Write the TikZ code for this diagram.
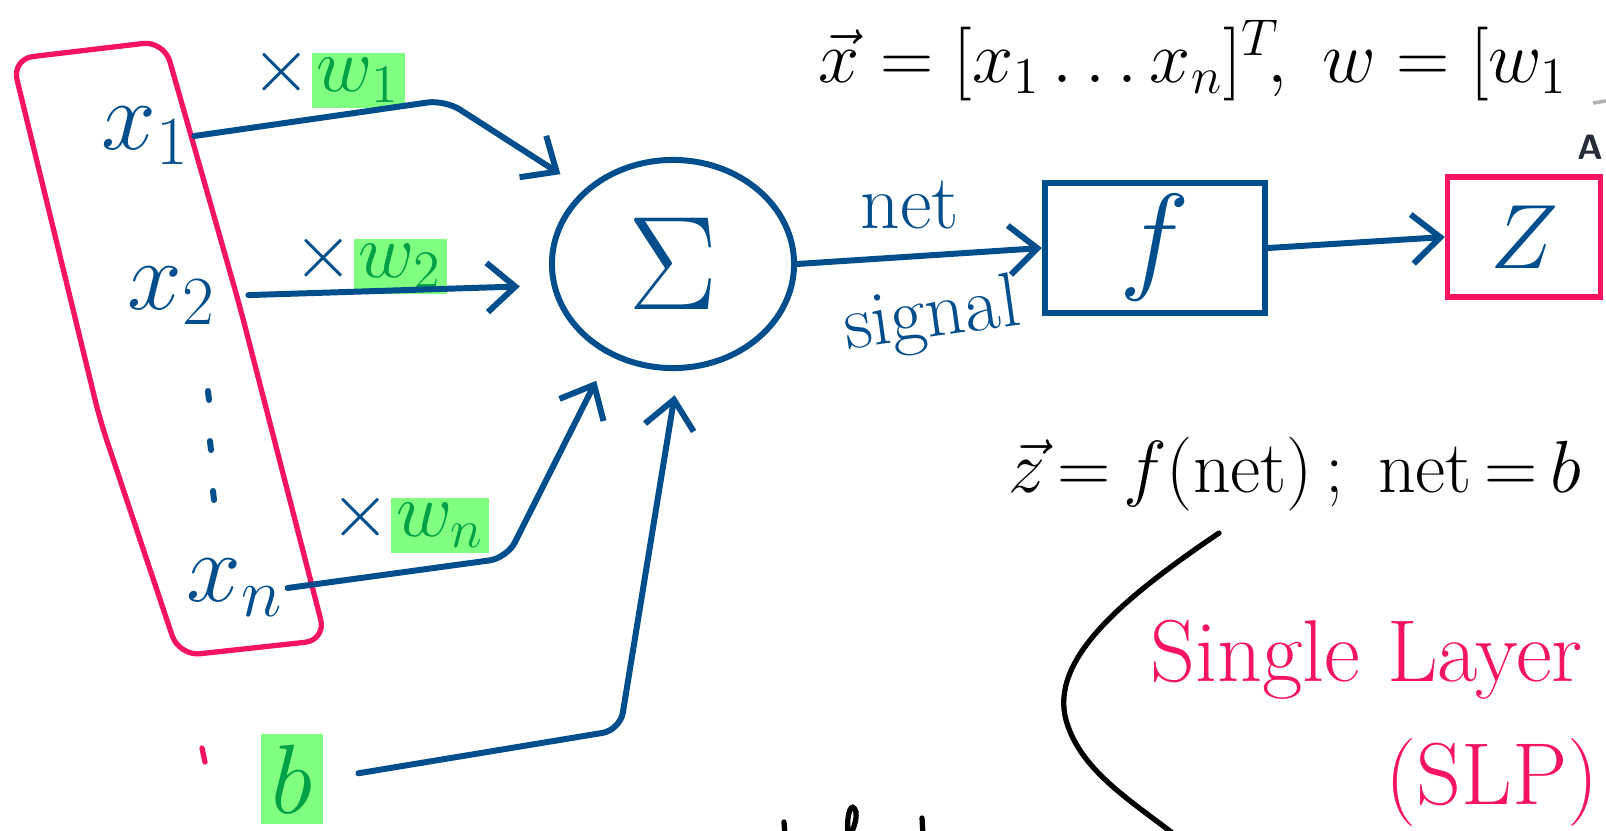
\RequirePackage{fix-cm}
\documentclass[tikz,border=0pt]{standalone}
\usepackage{tikz}
\usetikzlibrary{positioning,arrows.meta,shapes.geometric}
\usepackage{xcolor}
\usepackage{amsmath,amssymb}
\definecolor{inkblue}{RGB}{0,78,140}
\definecolor{inkpink}{RGB}{245,20,100}
\definecolor{hlgreen}{RGB}{128,255,128}
\definecolor{inkgreen}{RGB}{0,160,70}
\definecolor{inkgray}{RGB}{40,45,60}
\newcommand{\hl}[1]{{\setlength{\fboxsep}{1.5pt}\colorbox{hlgreen}{\color{inkgreen}#1}}}

\tikzset{
  wire/.style={draw=inkblue,line width=1.7pt,line cap=round,line join=round,
    rounded corners=5pt,-{Straight Barb[length=8pt,width=14pt]}},
  inlabel/.style={text=inkblue,font=\fontsize{28}{30}\selectfont,inner sep=1pt},
  weight/.style={text=inkblue,font=\fontsize{22}{24}\selectfont,inner sep=0pt},
  pinkline/.style={draw=inkpink,line width=1.5pt,line cap=round,line join=round},
  inkline/.style={draw=black,line width=1.5pt,line cap=round},
  handtext/.style={anchor=base west,inner sep=0pt,font=\fontsize{21}{26}\selectfont},
  pinktext/.style={handtext,text=inkpink,font=\fontsize{25}{30}\selectfont},
  sumnode/.style={ellipse,draw=inkblue,line width=1.7pt,inner sep=0pt,
    minimum width=2.42cm,minimum height=2.08cm,text=inkblue,font=\fontsize{38}{40}\selectfont},
  actbox/.style={draw=inkblue,line width=1.7pt,minimum width=2.2cm,minimum height=1.22cm,
    text=inkblue,font=\fontsize{34}{36}\selectfont},
  outbox/.style={draw=inkpink,line width=1.5pt,minimum width=1.53cm,minimum height=1.2cm,
    text=inkblue,font=\fontsize{26}{28}\selectfont},
}

\begin{document}
\begin{tikzpicture}[x=0.01cm,y=-0.01cm]
\useasboundingbox (0,0) rectangle (1606,830);
\clip (0,0) rectangle (1606,830);
\fill[white] (0,0) rectangle (1606,830);

% input column
\draw[pinkline,rounded corners=6pt] (12,59) -- (164,41) -- (240,307) -- (326,640)
  -- (179,656) -- (100,420) -- cycle;
\node[inlabel] (in1) at (146,136) {$x_1$};
\node[inlabel] (in2) at (172,296) {$x_2$};
\node[inlabel] (inn) at (235,588) {$x_n$};
\foreach \px/\py in {208/391,210/441,213/491}
  \draw[inkblue,line width=1.7pt,line cap=round] (\px,\py) -- ++(1,9);
\draw[pinkline] (202,748) -- (205,762);

% neuron
\node[sumnode] (sum) at (673,264) {$\Sigma$};
\node[actbox] (act) at (1155,248) {$f$};
\node[outbox] (out) at (1524,237) {$Z$};
\node[inlabel,fill=hlgreen,text=inkgreen,inner sep=3pt] (bias) at (292,779) {$b$};

% weights
\node[weight] (w1) at (328,77) {$\times$\hl{$w_1$}};
\node[weight] (w2) at (370,263) {$\times$\hl{$w_2$}};
\node[weight] (wn) at (410,522) {$\times$\hl{$w_n$}};
\node[weight] (net) at (910,205) {net};
\node[weight,rotate=8] (sig) at (932,318) {signal};

% connectors
\coordinate (k1) at (445,100);
\coordinate (kn) at (507,558);
\coordinate (kb) at (620,730);
\draw[wire,shorten >=8pt] (in1.east) -- (k1) -- (sum.140);
\draw[wire,shorten <=8pt,shorten >=9pt] (in2.east) -- (sum.190);
\draw[wire,shorten >=8pt] (inn.east) -- (kn) -- (sum.235);
\draw[wire,shorten <=10pt,shorten >=7pt] (bias.east) -- (kb) -- (sum.273);
\draw[wire] (sum.east) -- (act.west);
\draw[wire] (act.east) -- (out.west);

% notes
\node[handtext] (xvec) at (818,82) {$\vec{x}=[x_1 \ldots x_n]^T\!,\ w=[w_1$};
\node[handtext] (zvec) at (1008,492) {$\vec{z}\,{=}\,f(\mathrm{net})\,;\ \mathrm{net}\,{=}\,b$};
\node[pinktext] (slp) at (1150,681) {Single Layer};
\node[pinktext] (slpabbr) at (1385,804) {(SLP)};
\draw[inkline] (1219,533) .. controls (1120,600) and (1050,660) .. (1066,720)
  .. controls (1080,770) and (1130,800) .. (1175,835);
\draw[inkline] (784,822) -- (785,835);
\draw[inkline] (922,818) -- (923,835);
\draw[inkline] (848,835) .. controls (846,812) and (852,800) .. (856,812)
  .. controls (857,822) and (852,830) .. (851,835);
\draw[gray!60,line width=1pt] (1593,103) -- (1606,101);
\node[anchor=east,inner sep=0pt,text=inkgray,font=\sffamily\bfseries\fontsize{10}{12}\selectfont] (amark) at (1604,147) {A};
\end{tikzpicture}
\end{document}
